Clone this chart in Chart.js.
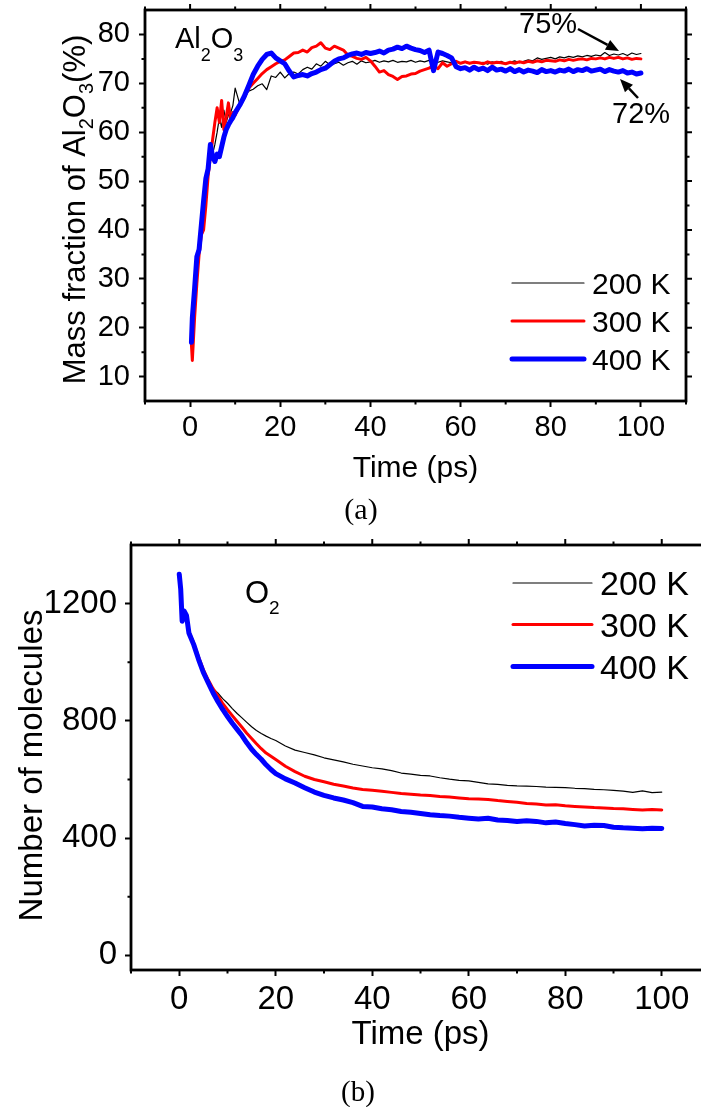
<!DOCTYPE html>
<html>
<head>
<meta charset="utf-8">
<script src="https://cdn.jsdelivr.net/npm/chart.js@4.4.1/dist/chart.umd.min.js"></script>
<style>
html, body { margin: 0; padding: 0; background: #fff; overflow: hidden; width: 701px; height: 1107px; }
canvas { position: absolute; left: 0; }
#ga { top: 0; }
#gb { top: 530px; }
</style>
</head>
<body>
<canvas id="ga" width="701" height="530"></canvas>
<canvas id="gb" width="760" height="577"></canvas>
<script>
// --- data (a): mass fraction of Al2O3 (%) vs time (ps)
var timeA = [0.3, 0.5, 1, 1.5, 2, 2.5, 3, 3.5, 4, 4.5, 5, 5.5, 6, 6.5, 7, 7.5, 8, 8.5, 9, 9.5, 10,
  11, 12, 13, 14, 15, 16, 17, 18, 19, 20, 21, 22, 23, 24, 25, 26, 27, 28, 29, 30,
  31, 32, 33, 34, 35, 36, 37, 38, 39, 40, 41, 42, 43, 44, 45, 46, 47, 48, 49, 50,
  51, 52, 53, 54, 55, 56, 57, 58, 59, 60, 61, 62, 63, 64, 65, 66, 67, 68, 69, 70,
  71, 72, 73, 74, 75, 76, 77, 78, 79, 80, 81, 82, 83, 84, 85, 86, 87, 88, 89, 90,
  91, 92, 93, 94, 95, 96, 97, 98, 99, 100];
var al200 = [17, 20, 27, 33, 38, 42, 45, 49, 52, 54, 55.5, 57.5, 60, 63, 61, 64.5, 62, 63.5, 64, 65.5, 69,
  65.8, 67.2, 68.4, 68.8, 69.5, 69.9, 68.7, 71.5, 71.2, 72.3, 71.1, 72, 72.3, 71.9, 72.8, 73.3, 72.9, 74, 73.5, 74.5,
  73.8, 74, 74.3, 73.7, 74.2, 74.5, 73.9, 74.6, 74.2, 74.4, 74.7, 74.3, 74.6, 74.4, 74.7, 74.3, 74.5, 74.4, 74.7, 74.3,
  74.6, 74.4, 74.7, 74.5, 74.3, 74.6, 74.4, 74.2, 74.5, 74.1, 74.3, 74, 74.4, 74.1, 74.3, 73.9, 74.4, 74.2, 74.5, 74,
  74.3, 74.6, 74.2, 74.5, 74.8, 74.6, 75.2, 74.9, 75.1, 75.3, 75, 75.4, 75.2, 75.5, 75.3, 75.6, 75.4, 75.7, 75.5, 75.8,
  75.6, 76.3, 75.7, 76, 75.8, 76.1, 75.7, 76.2, 75.9, 76.1];
var al300 = [16.5, 13.3, 22, 29, 35, 39, 40, 45, 51, 55, 58.5, 62, 65, 62, 66.5, 60.5, 63, 66, 62.5, 64, 63.5,
  65.5, 67, 69, 70, 71, 72, 72.8, 73.4, 74, 74.5, 74.8, 75.5, 76.2, 76.3, 76.8, 76.4, 77.3, 77.6, 78.3, 77.2,
  76.9, 77.6, 77.2, 76.8, 75.8, 75.5, 75.1, 74.9, 75.3, 74.6, 73.5, 72.3, 72.6, 71.8, 71.4, 70.8, 71.4, 71.5, 71.9, 72,
  72.5, 72.8, 73.1, 73.6, 73, 74.2, 73.5, 74, 74.5, 74.1, 74.4, 74.1, 74.3, 74.2, 74, 74.4, 74.1, 74.3, 74.2, 74,
  74.3, 74.1, 74.4, 74.2, 74.5, 74.3, 74.6, 74.4, 74.7, 74.6, 74.5, 74.8, 74.6, 74.9, 74.7, 74.9, 75, 74.8, 75.1, 75,
  75.2, 75, 75.3, 75.1, 75.3, 75, 75.2, 74.9, 75.1, 75];
var al400 = [17, 22, 28, 34.5, 36, 41, 46, 50.5, 52.5, 57.5, 55, 54, 55.5, 55, 57, 59, 60.5, 61.5, 62.3, 63, 64,
  65.5, 67.3, 69.5, 71.8, 73.5, 74.9, 75.9, 76.2, 75.2, 74.6, 74, 72.5, 71.3, 71.6, 71.8, 71.5, 72, 72.3, 72.8, 73.1,
  73.8, 74.5, 75, 75.2, 75.7, 76, 76.2, 75.9, 76.3, 76.1, 76.3, 76.6, 76.2, 76.8, 77, 77.4, 77.1, 77.6, 77.2, 76.9,
  76.7, 76.3, 76.8, 72.6, 76.4, 76.1, 75.7, 75.2, 73.4, 73, 73.2, 72.7, 73.3, 72.8, 73.1, 72.6, 73.3, 72.7, 72.9, 72.5,
  73, 72.4, 72.8, 72.3, 72.7, 72.5, 72.2, 72.8, 72.4, 72.6, 72.3, 72.7, 72.5, 72.9, 72.4, 72.8, 72.6, 73, 72.5, 72.7,
  72.9, 72.4, 72.8, 72.5, 72.3, 72.6, 72.1, 72.3, 71.9, 72.1];

// --- data (b): number of O2 molecules vs time (ps)
var timeB = [0, 0.3, 0.6, 1, 1.5, 2, 3, 4, 5, 6, 7, 8, 9, 10, 11, 12, 13, 14, 15, 16, 17, 18, 19, 20,
  22, 24, 26, 28, 30, 32, 34, 36, 38, 40, 42, 44, 46, 48, 50, 52, 54, 56, 58, 60,
  62, 64, 66, 68, 70, 72, 74, 76, 78, 80, 82, 84, 86, 88, 90, 92, 94, 96, 98, 100];
var o200 = [1300, 1250, 1140, 1170, 1150, 1100, 1062, 1015, 972, 938, 910, 895, 876, 860, 842, 825, 810, 795, 780, 767, 757, 748, 740, 733,
  714, 700, 692, 684, 674, 667, 660, 652, 646, 640, 636, 630, 622, 618, 614, 612, 606, 601, 597, 595,
  590, 585, 583, 580, 578, 577, 576, 574, 573, 572, 570, 569, 566, 565, 563, 560, 556, 561, 555, 557];
var o300 = [1300, 1250, 1150, 1170, 1155, 1105, 1065, 1018, 975, 940, 910, 885, 860, 838, 818, 798, 778, 758, 740, 722, 705, 690, 679, 668,
  645, 627, 611, 600, 592, 584, 578, 571, 566, 563, 560, 556, 552, 550, 547, 545, 542, 540, 537, 534,
  533, 532, 528, 525, 522, 518, 516, 513, 514, 510, 508, 506, 504, 503, 501, 500, 498, 496, 498, 496];
var o400 = [1300, 1250, 1140, 1175, 1160, 1100, 1060, 1010, 965, 930, 896, 866, 839, 815, 792, 771, 750, 725, 703, 685, 669, 650, 634, 620,
  602, 588, 572, 557, 546, 537, 530, 521, 508, 506, 500, 497, 491, 488, 484, 480, 477, 475, 471, 468,
  465, 468, 462, 460, 457, 459, 457, 452, 455, 450, 446, 441, 444, 443, 437, 435, 434, 432, 434, 433];

var seriesLabels = ['200 K', '300 K', '400 K'];

// ticks
var xTicksA = [0, 20, 40, 60, 80, 100];
var xMinorA = [-10, 10, 30, 50, 70, 90, 110];
var yTicksA = [10, 20, 30, 40, 50, 60, 70, 80];
var yMinorA = [15, 25, 35, 45, 55, 65, 75];
var xTicksB = [0, 20, 40, 60, 80, 100];
var xMinorB = [-10, 10, 30, 50, 70, 90, 110];
var yTicksB = [0, 400, 800, 1200];
var yMinorB = [200, 600, 1000];

var FONT = "'Liberation Sans', Arial, sans-serif";
var SERIF = "'Liberation Serif', 'Times New Roman', serif";

function pts(t, v) {
    return t.map(function(x, i) { return {x: x, y: v[i]}; });
}

function makeSets(t, s200, s300, s400) {
    return [
        {label: seriesLabels[0], data: pts(t, s200), borderColor: '#000000', borderWidth: 1.2, order: 2},
        {label: seriesLabels[1], data: pts(t, s300), borderColor: '#ff0000', borderWidth: 3, order: 1},
        {label: seriesLabels[2], data: pts(t, s400), borderColor: '#0000ff', borderWidth: 5, order: 0}
    ];
}

// text with subscripts: parts = [text, size, dy]
function rich(ctx, parts, x, y, align) {
    var w = 0;
    parts.forEach(function(p) { ctx.font = p[1] + 'px ' + FONT; w += ctx.measureText(p[0]).width; });
    var cx = align === 'center' ? x - w / 2 : x;
    ctx.textAlign = 'left';
    ctx.textBaseline = 'alphabetic';
    parts.forEach(function(p) {
        ctx.font = p[1] + 'px ' + FONT;
        ctx.fillText(p[0], cx, y + (p[2] || 0));
        cx += ctx.measureText(p[0]).width;
    });
}

function arrow(ctx, x1, y1, x2, y2) {
    var ang = Math.atan2(y2 - y1, x2 - x1), L = 13, W = 5.5;
    var bx = x2 - L * Math.cos(ang), by = y2 - L * Math.sin(ang);
    ctx.lineWidth = 2.5;
    ctx.beginPath(); ctx.moveTo(x1, y1); ctx.lineTo(bx, by); ctx.stroke();
    ctx.beginPath();
    ctx.moveTo(x2, y2);
    ctx.lineTo(bx + W * Math.sin(ang), by - W * Math.cos(ang));
    ctx.lineTo(bx - W * Math.sin(ang), by + W * Math.cos(ang));
    ctx.closePath(); ctx.fill();
}

// frame, minor ticks, titles, legend, annotations
function deco(cfg) {
    return {
        id: 'deco' + cfg.id,
        afterDraw: function(chart) {
            var ctx = chart.ctx, a = chart.chartArea;
            var sx = chart.scales.x, sy = chart.scales.y;
            ctx.save();
            ctx.strokeStyle = '#000'; ctx.fillStyle = '#000';
            ctx.lineWidth = 2;
            ctx.beginPath();
            cfg.xMinor.forEach(function(v) {
                var p = sx.getPixelForValue(v);
                ctx.moveTo(p, a.bottom); ctx.lineTo(p, a.bottom + 3.5);
                ctx.moveTo(p, a.top); ctx.lineTo(p, a.top - 3.5);
            });
            cfg.xMajor.forEach(function(v) {
                var p = sx.getPixelForValue(v);
                ctx.moveTo(p, a.top); ctx.lineTo(p, a.top - 6);
            });
            cfg.yMinor.forEach(function(v) {
                var p = sy.getPixelForValue(v);
                ctx.moveTo(a.left, p); ctx.lineTo(a.left - 3.5, p);
                ctx.moveTo(a.right, p); ctx.lineTo(a.right + 3.5, p);
            });
            cfg.yMajor.forEach(function(v) {
                var p = sy.getPixelForValue(v);
                ctx.moveTo(a.right, p); ctx.lineTo(a.right + 6, p);
            });
            ctx.stroke();
            ctx.lineWidth = 2.8;
            ctx.strokeRect(a.left, a.top, a.right - a.left, a.bottom - a.top);

            // axis titles
            rich(ctx, [['Time (ps)', cfg.xTitleSize]], (a.left + a.right) / 2, cfg.xTitleY, 'center');
            ctx.save();
            ctx.translate(cfg.yTitleX, (a.top + a.bottom) / 2 + cfg.yTitleShift);
            ctx.rotate(-Math.PI / 2);
            rich(ctx, cfg.yTitle, 0, 0, 'center');
            ctx.restore();

            // panel label
            ctx.font = cfg.panelSize + 'px ' + SERIF;
            ctx.textAlign = 'center';
            ctx.fillText(cfg.panel, cfg.panelX, cfg.panelY);

            // legend
            chart.data.datasets.forEach(function(ds, i) {
                var ly = cfg.legY[i];
                ctx.strokeStyle = ds.borderColor;
                ctx.lineWidth = ds.borderWidth;
                ctx.lineCap = 'round';
                ctx.beginPath(); ctx.moveTo(cfg.legX0, ly); ctx.lineTo(cfg.legX1, ly); ctx.stroke();
                ctx.fillStyle = '#000';
                rich(ctx, [[ds.label, cfg.legSize]], cfg.legX1 + 8, ly + cfg.legSize * 0.36, 'left');
            });
            ctx.strokeStyle = '#000'; ctx.fillStyle = '#000'; ctx.lineCap = 'butt';

            // annotations
            cfg.notes.forEach(function(n) { rich(ctx, n.parts, n.x, n.y, 'left'); });
            cfg.arrows.forEach(function(r) { arrow(ctx, r[0], r[1], r[2], r[3]); });
            ctx.restore();
        }
    };
}

function axisX(min, max, ticks, h, size) {
    return {
        type: 'linear', min: min, max: max,
        afterBuildTicks: function(s) { s.ticks = ticks.map(function(v) { return {value: v}; }); },
        afterFit: function(s) { s.height = h; s.paddingLeft = 0; s.paddingRight = 0; },
        border: {display: false},
        grid: {drawOnChartArea: false, tickLength: 6, tickWidth: 2, tickColor: '#000'},
        ticks: {font: {size: size, family: FONT}, color: '#000', padding: 4, maxRotation: 0, autoSkip: false,
            callback: function(v) { return String(v); }}
    };
}

function axisY(min, max, ticks, w, size, pad) {
    return {
        type: 'linear', min: min, max: max,
        afterBuildTicks: function(s) { s.ticks = ticks.map(function(v) { return {value: v}; }); },
        afterFit: function(s) { s.width = w; s.paddingTop = 0; s.paddingBottom = 0; },
        border: {display: false},
        grid: {drawOnChartArea: false, tickLength: 6, tickWidth: 2, tickColor: '#000'},
        ticks: {font: {size: size, family: FONT}, color: '#000', padding: pad, autoSkip: false,
            callback: function(v) { return String(v); }}
    };
}

function baseOptions(padding, sx, sy) {
    return {
        responsive: false,
        animation: false,
        layout: {padding: padding},
        plugins: {legend: {display: false}, tooltip: {enabled: false}},
        elements: {point: {radius: 0}, line: {tension: 0, borderJoinStyle: 'round', borderCapStyle: 'round'}},
        scales: {x: sx, y: sy}
    };
}

// chart (a)
new Chart(document.getElementById('ga').getContext('2d'), {
    type: 'line',
    data: {datasets: makeSets(timeA, al200, al300, al400)},
    options: baseOptions({left: 0, right: 15, top: 10, bottom: 0},
        axisX(-10, 110, xTicksA, 129, 29),
        axisY(5, 85, yTicksA, 145, 29, 9)),
    plugins: [deco({
        id: 'a', xMajor: xTicksA, xMinor: xMinorA, yMajor: yTicksA, yMinor: yMinorA,
        xTitleSize: 30, xTitleY: 477,
        yTitleX: 85, yTitleShift: 4,
        yTitle: [['Mass fraction of Al', 31], ['2', 20, 8], ['O', 31], ['3', 20, 8], ['(%)', 31]],
        panel: '(a)', panelSize: 30, panelX: 361, panelY: 519,
        legX0: 512, legX1: 584, legY: [283, 321, 359], legSize: 30,
        notes: [
            {x: 175, y: 48, parts: [['Al', 29], ['2', 18, 13], ['O', 29], ['3', 18, 13]]},
            {x: 519, y: 33, parts: [['75%', 29]]},
            {x: 612, y: 123, parts: [['72%', 29]]}
        ],
        arrows: [[578, 29, 619, 51], [638, 98, 620, 79]]
    })]
});

// chart (b)
new Chart(document.getElementById('gb').getContext('2d'), {
    type: 'line',
    data: {datasets: makeSets(timeB, o200, o300, o400)},
    options: baseOptions({left: 0, right: 50, top: 15, bottom: 0},
        axisX(-10, 110, xTicksB, 137, 33),
        axisY(-50, 1400, yTicksB, 131, 33, 8)),
    plugins: [deco({
        id: 'b', xMajor: xTicksB, xMinor: xMinorB, yMajor: yTicksB, yMinor: yMinorB,
        xTitleSize: 33, xTitleY: 514,
        yTitleX: 42, yTitleShift: 8,
        yTitle: [['Number of molecules', 33]],
        panel: '(b)', panelSize: 29, panelX: 358, panelY: 571,
        legX0: 513, legX1: 592, legY: [53, 94.5, 136.5], legSize: 34,
        notes: [
            {x: 245, y: 73, parts: [['O', 31], ['2', 19, 11]]}
        ],
        arrows: []
    })]
});
</script>
</body>
</html>
